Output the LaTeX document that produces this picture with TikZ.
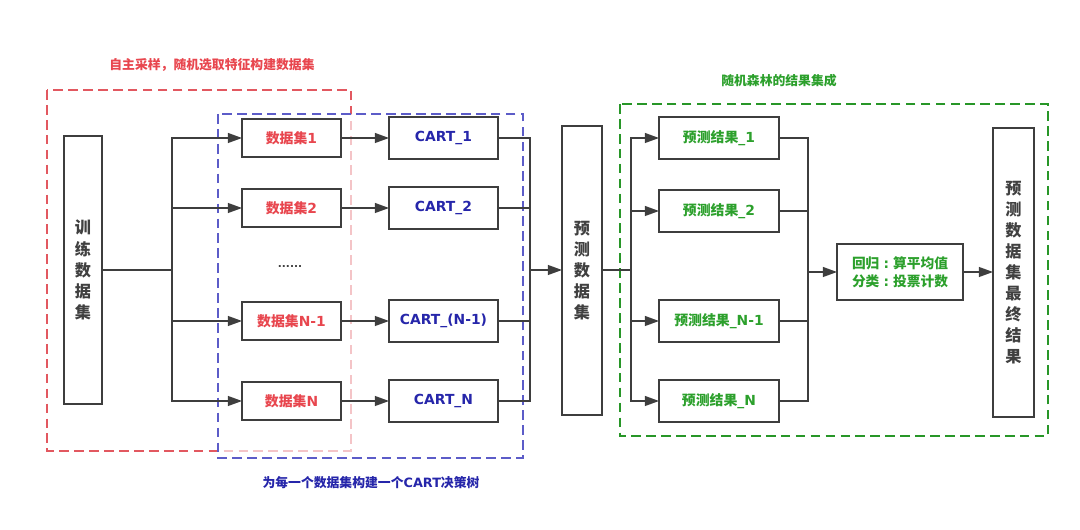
\documentclass[tikz,border=0pt]{standalone}
\usepackage{fontspec}
\setmainfont{DejaVu Sans}
\newfontfamily\cjk{Noto Sans CJK SC}
\usetikzlibrary{arrows.meta}
\definecolor{redtxt}{RGB}{232,70,78}
\definecolor{reddsh}{RGB}{226,88,96}
\definecolor{bluetxt}{RGB}{38,38,170}
\definecolor{bluedsh}{RGB}{92,92,200}
\definecolor{greentxt}{RGB}{44,160,44}
\definecolor{greendsh}{RGB}{40,150,40}
\definecolor{boxc}{RGB}{62,62,62}
\definecolor{vtxt}{RGB}{64,64,64}
\begin{document}
\begin{tikzpicture}[x=0.02cm,y=-0.02cm,
  dsh/.style={line width=0.9pt,dash pattern=on 5.5pt off 3pt},
  bx/.style={draw=boxc,line width=1.05pt,inner sep=0pt,outer sep=0pt,
    font=\bfseries\fontsize{7.9}{9}\selectfont},
  dbox/.style={bx,minimum width=1.98cm,minimum height=0.76cm,text=redtxt},
  cbox/.style={bx,minimum width=2.18cm,minimum height=0.84cm,text=bluetxt},
  pbox/.style={bx,minimum width=2.4cm,minimum height=0.84cm,text=greentxt},
  vbox/.style={bx,align=center,text=vtxt,
    font=\cjk\bfseries\fontsize{9.2}{12}\selectfont},
  ttl/.style={font=\bfseries\fontsize{7.3}{9}\selectfont},
  arr/.style={draw=boxc,line width=0.85pt,-{Triangle[length=8pt,width=5.6pt]}},
  ln/.style={draw=boxc,line width=0.85pt}]
\useasboundingbox (0,0) rectangle (1080,530);

% dashed group frames
\draw[dsh,draw=reddsh] (47,90) rectangle (351,451);
\draw[dsh,draw=bluedsh,fill=white,fill opacity=0.65] (218,114) rectangle (523,458);
\draw[dsh,draw=greendsh] (620,104) rectangle (1048,436);

% titles
\node[ttl,text=redtxt] (t1) at (212,65) {\cjk 自主采样，随机选取特征构建数据集};
\node[ttl,text=greentxt] (t2) at (779,81) {\cjk 随机森林的结果集成};
\node[ttl,text=bluetxt] (t3) at (371,483) {{\cjk 为每一个数据集构建一个}CART{\cjk 决策树}};

% training data
\node[vbox,minimum width=0.76cm,minimum height=5.36cm] (train) at (83,270) {训\\练\\数\\据\\集};

% datasets
\node[dbox] (d1) at (291.5,138) {{\cjk 数据集}1};
\node[dbox] (d2) at (291.5,208) {{\cjk 数据集}2};
\node[dbox] (d3) at (291.5,321) {{\cjk 数据集}N-1};
\node[dbox] (d4) at (291.5,401) {{\cjk 数据集}N};
\node[font=\bfseries\fontsize{6}{7}\selectfont,text=vtxt] (dots) at (290,267) {......};

% CART trees
\node[cbox] (c1) at (443.5,138) {CART\_1};
\node[cbox] (c2) at (443.5,208) {CART\_2};
\node[cbox] (c3) at (443.5,321) {CART\_(N-1)};
\node[cbox] (c4) at (443.5,401) {CART\_N};

% prediction data
\node[vbox,minimum width=0.8cm,minimum height=5.78cm] (pred) at (582,270.5) {预\\测\\数\\据\\集};

% prediction results
\node[pbox] (p1) at (719,138) {{\cjk 预测结果}\_1};
\node[pbox] (p2) at (719,211) {{\cjk 预测结果}\_2};
\node[pbox] (p3) at (719,321) {{\cjk 预测结果}\_N-1};
\node[pbox] (p4) at (719,401) {{\cjk 预测结果}\_N};

% vote
\node[bx,minimum width=2.52cm,minimum height=1.12cm,align=center,text=greentxt,
  font=\bfseries\fontsize{7.8}{10.5}\selectfont] (vote) at (900,272)
  {{\cjk 回归}\hbox to 1em{\hss:\hss}{\cjk 算平均值}\\{\cjk 分类}\hbox to 1em{\hss:\hss}{\cjk 投票计数}};

% final
\node[vbox,minimum width=0.82cm,minimum height=5.78cm] (final) at (1013.5,272.5)
  {预\\测\\数\\据\\集\\最\\终\\结\\果};

% branch points
\coordinate (b1) at (172,270);
\coordinate (m1) at (530,270);
\coordinate (b2) at (631,270);
\coordinate (m2) at (808,272);

% connectors
\draw[ln] (train.east) -- (b1);
\foreach \i in {1,2,3,4} {
  \draw[arr] (b1) |- (d\i.west);
  \draw[arr] (d\i.east) -- (c\i.west);
  \draw[ln] (c\i.east) -| (m1);
  \draw[arr] (b2) |- (p\i.west);
  \draw[ln] (p\i.east) -| (m2);
}
\draw[arr] (m1) -- (m1 -| pred.west);
\draw[ln] (b2 -| pred.east) -- (b2);
\draw[arr] (m2) -- (vote.west);
\draw[arr] (vote.east) -- (vote.east -| final.west);
\end{tikzpicture}
\end{document}
